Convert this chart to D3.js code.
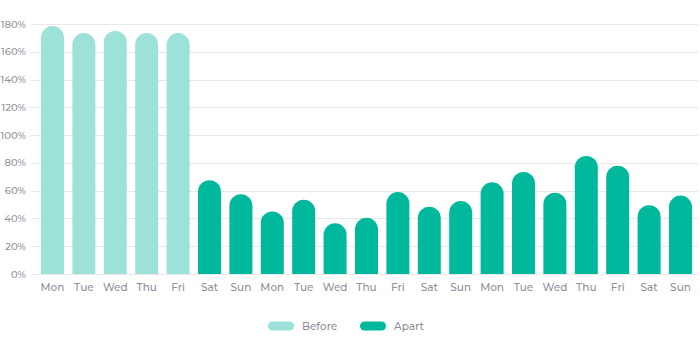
<!DOCTYPE html>
<html>
<head>
<meta charset="utf-8">
<script src="https://cdn.jsdelivr.net/npm/d3@7"></script>
<style>
  html, body { margin: 0; padding: 0; background: #fff; }
  svg { display: block; }
  text { font-family: "Montserrat", "Lato", "Open Sans", sans-serif; fill: #918f9e; font-weight: 500; }
</style>
</head>
<body>
<svg id="chart" width="700" height="357"></svg>
<script>
const days = ["Mon","Tue","Wed","Thu","Fri","Sat","Sun","Mon","Tue","Wed","Thu","Fri","Sat","Sun","Mon","Tue","Wed","Thu","Fri","Sat","Sun"];
const groups = ["Before","Before","Before","Before","Before","Apart","Apart","Apart","Apart","Apart","Apart","Apart","Apart","Apart","Apart","Apart","Apart","Apart","Apart","Apart","Apart"];
const values = [178.5, 173.5, 175, 173.5, 173.5, 67.5, 57.5, 45, 53.5, 36.5, 40.5, 59, 48.5, 52.5, 66, 73.5, 58.5, 85, 78, 49.5, 56.5];
const yTicks = [0, 20, 40, 60, 80, 100, 120, 140, 160, 180];
const seriesNames = ["Before", "Apart"];
const seriesColors = ["#9ce2d9", "#00b89c"];

const svg = d3.select("#chart");
const color = d3.scaleOrdinal().domain(seriesNames).range(seriesColors);
const idx = d3.range(values.length);

const x = d3.scaleBand().domain(idx).range([36.8, 696.2]).paddingInner(0.268).paddingOuter(0.134);
const y = d3.scaleLinear().domain([0, 180]).range([274, 24]);

// gridlines
svg.append("g").selectAll("line").data(yTicks).join("line")
  .attr("x1", 31).attr("x2", 698)
  .attr("y1", d => Math.round(y(d)) + 0.5).attr("y2", d => Math.round(y(d)) + 0.5)
  .attr("stroke", "#e8e8ea").attr("stroke-width", 1);

// y labels
svg.append("g").selectAll("text").data(yTicks).join("text")
  .attr("x", 26).attr("y", d => y(d)).attr("dy", "0.35em")
  .attr("text-anchor", "end").attr("font-size", 10)
  .text(d => d + "%");

// bars with rounded tops
const bw = x.bandwidth();
const r = bw / 2;
svg.append("g").selectAll("path").data(idx).join("path")
  .attr("fill", i => color(groups[i]))
  .attr("d", i => {
    const x0 = x(i), x1 = x0 + bw, top = y(values[i]), base = y(0);
    return `M${x0},${base} L${x0},${top + r} A${r},${r} 0 0 1 ${x1},${top + r} L${x1},${base} Z`;
  });

// x labels
svg.append("g").selectAll("text").data(idx).join("text")
  .attr("x", i => x(i) + bw / 2).attr("y", 287).attr("dy", "0.35em")
  .attr("text-anchor", "middle").attr("font-size", 10.5)
  .text(i => days[i]);

// legend
const legendX = [268, 360];
const lg = svg.append("g").selectAll("g").data(seriesNames).join("g")
  .attr("transform", (d, i) => `translate(${legendX[i]},326)`);
lg.append("rect").attr("x", 0).attr("y", -4.5).attr("width", 26).attr("height", 9)
  .attr("rx", 4.5).attr("fill", d => color(d));
lg.append("text").attr("x", 34).attr("y", 0).attr("dy", "0.35em")
  .attr("font-size", 10.5).text(d => d);
</script>
</body>
</html>
